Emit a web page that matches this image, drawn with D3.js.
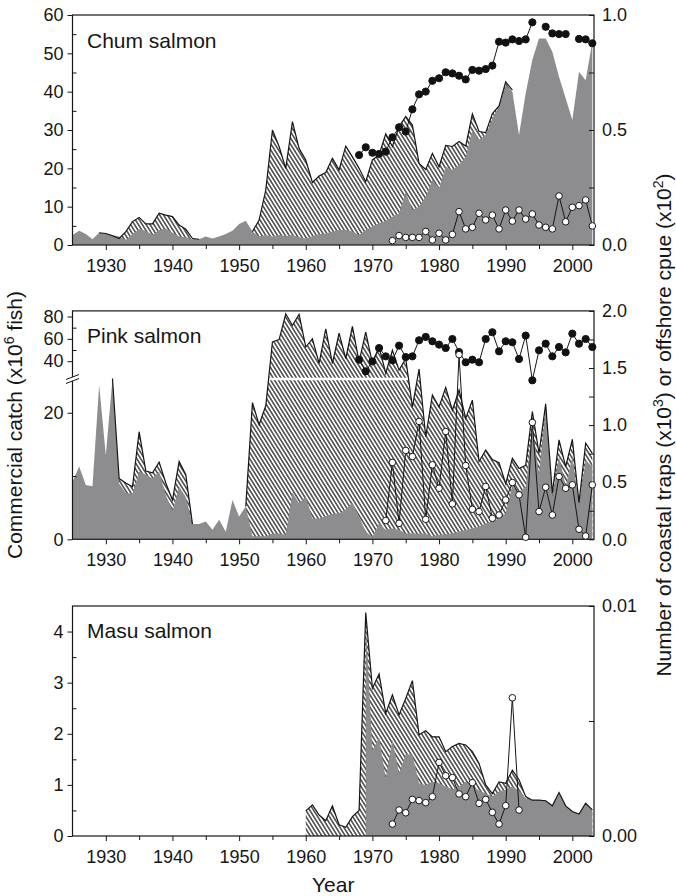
<!DOCTYPE html>
<html><head><meta charset="utf-8">
<script src="https://cdn.jsdelivr.net/npm/d3@7"></script>
<style>
body{margin:0;background:#fff}
svg{display:block}
text{font-family:"Liberation Sans",Arial,Helvetica,sans-serif;fill:#161616}
</style>
</head><body>
<svg id="c" width="676" height="896"></svg>
<script>
// ---------------- DATA ----------------
const years = d3.range(1925, 2004);
const xTicks = [1930, 1940, 1950, 1960, 1970, 1980, 1990, 2000];
const xMinor = [1935, 1945, 1955, 1965, 1975, 1985, 1995];

// Chum salmon (x10^6 fish)
const chumHatchery = [2.6,3.7,2.9,1.5,3.2,3.0,2.6,2.2,1.3,2.9,4.1,3.7,2.6,3.9,4.3,3.2,2.2,2.0,1.5,1.5,2.2,1.7,2.2,2.9,3.7,
  5.5,6.3,3.5,2.2,2.6,2.2,2.6,2.3,2.6,2.0,1.7,2.3,2.9,3.0,3.5,3.9,3.9,3.5,2.6,3.9,4.8,5.7,6.3,7.4,8.3,
  13.9,9.1,10.0,12.6,17.0,14.8,20.4,19.6,20.9,23.0,30.0,27.4,28.7,33.0,36.1,41.7,40.0,28.7,39.6,48.3,53.9,53.9,50.4,43.9,38.3,
  32.6,45.2,43.0,53.0];
const chumTotal = [null,null,null,null,
  3.2,3.0,2.4,1.7,3.5,6.1,7.2,5.5,5.5,8.3,7.8,7.4,5.2,4.1,1.7,1.5,
  null,null,null,null,null,null,null,
  3.5,6.5,14.3,30.0,25.7,20.0,32.2,25.2,22.2,16.3,18.0,18.9,22.6,19.6,25.8,23.0,20.0,16.5,22.2,23.5,29.0,25.7,30.9,33.5,31.3,
  21.3,19.7,23.9,20.4,26.0,25.7,27.0,25.8,34.2,29.6,29.3,34.3,36.3,42.6,40.4,
  null,null,null,null,null,null,null,null,null,null,null,null];
const chumTrapYears = d3.range(1968, 2004);
const chumTraps = [0.391,0.425,0.401,0.396,0.406,0.468,0.512,0.493,0.590,0.655,0.667,0.714,0.725,0.751,0.746,0.736,0.720,
  0.761,0.758,0.765,0.780,0.884,0.880,0.894,0.887,0.894,0.968,null,0.949,0.920,0.917,0.917,null,0.896,0.894,0.877];
const chumCpueYears = d3.range(1973, 2004);
const chumCpue = [0.019,0.041,0.033,0.033,0.033,0.059,0.022,0.051,0.022,0.046,0.145,0.070,0.077,0.138,0.109,0.130,0.070,
  0.152,0.104,0.152,0.113,0.135,0.087,0.077,0.070,0.213,0.101,0.164,0.171,0.196,0.083];

// Pink salmon
const pinkHatchery = [9.1,11.5,8.6,8.4,24.4,13.3,25.4,8.8,7.3,7.2,10.7,10.2,9.6,10.7,7.0,4.5,8.3,6.7,2.4,2.4,2.8,1.5,3.1,1.2,6.2,
  3.6,5.2,0.5,0.5,0.5,0.9,0.9,0.7,7.4,5.7,6.8,3.3,3.3,3.7,4.0,4.1,4.7,5.8,3.6,1.2,0.4,2.5,1.5,1.7,1.5,
  0.9,0.9,0.9,0.9,0.5,0.7,0.8,0.9,1.2,1.5,1.7,2.0,2.5,2.8,3.3,4.1,8.6,7.5,8.3,17.8,10.4,20.9,6.7,13.1,8.3,
  13.1,5.7,12.5,11.5];
const pinkTotal = [null,null,null,null,null,null,
  25.4,9.6,8.9,8.3,17.0,10.8,10.5,12.2,8.9,6.2,12.3,10.2,2.4,
  null,null,null,null,null,null,null,
  5.2,21.6,18.1,21.1,57.2,59.3,82.4,72.0,81.8,52.7,60.1,38.0,69.0,38.0,65.2,42.4,71.1,39.4,66.1,38.0,52.7,29.3,49.8,32.0,42.4,
  20.9,33.0,16.2,22.8,20.9,24.0,20.4,23.6,19.1,22.0,12.3,14.1,12.6,12.1,8.8,12.8,11.2,11.7,20.2,13.6,21.4,7.3,15.7,11.5,
  15.8,5.8,15.2,13.6];
const pinkTrapYears = d3.range(1968, 2004);
const pinkTraps = [1.573,1.471,1.558,1.675,1.602,1.567,1.696,1.596,1.602,1.743,1.772,1.734,1.705,1.675,1.754,1.640,1.550,
  1.573,1.550,1.754,1.813,1.646,1.734,1.725,1.579,1.784,1.392,1.655,1.713,1.602,1.684,1.637,1.801,1.713,1.754,1.684];
const pinkCpueYears = d3.range(1972, 2004);
const pinkCpue = [0.164,0.673,0.140,0.778,0.725,1.032,0.175,0.652,0.447,0.944,0.310,1.617,0.646,0.263,0.243,0.462,0.184,
  0.213,0.345,0.497,0.389,0.018,1.023,0.243,0.456,0.213,0.550,0.447,0.477,0.088,0.029,0.477];

// Masu salmon
const masuYears = d3.range(1960, 2004);
const masuTotal = [0.49,0.61,0.41,0.30,0.59,0.22,0.17,0.38,0.50,4.37,
  2.89,3.17,2.40,2.76,2.37,2.69,3.04,1.98,2.06,1.94,
  1.94,1.65,1.75,1.81,1.78,1.65,1.42,1.00,0.83,1.06,
  1.03,1.29,1.10,0.77,0.70,0.70,0.69,0.59,0.85,0.59,
  0.48,0.43,0.64,0.51];
const masuHatchery = [null,null,null,null,null,null,null,null,null,4.2,
  1.67,1.93,1.13,1.88,1.23,1.60,1.59,1.03,1.00,1.06,
  1.03,0.97,0.91,0.97,1.06,0.97,0.89,0.83,0.77,0.87,
  0.91,0.97,0.89,0.74,0.70,0.70,0.69,0.59,0.85,0.59,
  0.48,0.43,0.64,0.51];
const masuCpueYears = d3.range(1973, 1993);
const masuCpue = [0.00052,0.00113,0.00101,0.00159,0.00154,0.00145,0.00171,0.0032,0.00262,0.00254,
  0.00183,0.00171,0.00232,0.00142,0.00159,0.00103,0.00052,0.00132,0.00601,0.00113];

// ---------------- DRAW ----------------
const svg = d3.select('#c');
const X0 = 72.5, X1 = 594;
const x = d3.scaleLinear().domain([1925, 2003.25]).range([X0, X1]);
const GRAY = '#8d8d8f', INK = '#161616';

const defs = svg.append('defs');
const pat = defs.append('pattern').attr('id', 'hatch').attr('patternUnits', 'userSpaceOnUse')
  .attr('width', 3.3).attr('height', 10).attr('patternTransform', 'rotate(-32)');
pat.append('rect').attr('width', 3.3).attr('height', 10).attr('fill', '#fff');
pat.append('line').attr('x1', 1.65).attr('x2', 1.65).attr('y1', -1).attr('y2', 11)
  .attr('stroke', '#000').attr('stroke-width', 1.1);

const pts = (yrs, vals) => yrs.map((yr, i) => ({yr, v: vals[i]}));

function styleAxis(g, fs) {
  g.select('.domain').remove();
  g.selectAll('line').attr('stroke', INK).attr('stroke-width', 1);
  g.selectAll('text').attr('font-size', fs).attr('fill', INK)
    .attr('font-family', '"Liberation Sans",Arial,sans-serif');
}

function panel(c) {
  const g = svg.append('g');
  const top = c.y.range()[c.y.range().length - 1], bot = c.y.range()[0];
  const cid = 'clip' + c.id;
  defs.append('clipPath').attr('id', cid).append('rect')
    .attr('x', X0).attr('y', top).attr('width', X1 - X0).attr('height', bot - top);
  const pg = g.append('g').attr('clip-path', `url(#${cid})`);

  const tot = pts(c.totYears, c.total);
  const hat = pts(c.hatYears, c.hatch);
  const area = d3.area().defined(d => d.v != null).x(d => x(d.yr)).y0(c.y(0)).y1(d => c.y(d.v));
  pg.append('path').attr('d', area(tot)).attr('fill', 'url(#hatch)');
  pg.append('path').attr('d', area(hat)).attr('fill', GRAY);
  if (c.breakY) {
    pg.append('line').attr('x1', x(1950)).attr('x2', X1).attr('y1', c.breakY).attr('y2', c.breakY)
      .attr('stroke', '#fff').attr('stroke-width', 2.6);
  }
  const line = d3.line().defined(d => d.v != null).x(d => x(d.yr)).y(d => c.y(d.v));
  pg.append('path').attr('d', line(tot)).attr('fill', 'none').attr('stroke', INK)
    .attr('stroke-width', 1.2).attr('stroke-linejoin', 'miter');

  // frame
  g.append('rect').attr('x', X0).attr('y', top).attr('width', X1 - X0).attr('height', bot - top)
    .attr('fill', 'none').attr('stroke', INK).attr('stroke-width', 1.2);

  // axes
  const ab = g.append('g').attr('transform', `translate(0,${bot})`)
    .call(d3.axisBottom(x).tickValues(xTicks).tickSize(5).tickPadding(9).tickFormat(d3.format('d')));
  styleAxis(ab, 18);
  const abm = g.append('g').attr('transform', `translate(0,${bot})`)
    .call(d3.axisBottom(x).tickValues(xMinor).tickSize(4).tickFormat(''));
  styleAxis(abm, 18);
  const al = g.append('g').attr('transform', `translate(${X0},0)`)
    .call(d3.axisLeft(c.y).tickValues(c.leftTicks).tickSize(5).tickPadding(4).tickFormat(d3.format('d')));
  styleAxis(al, 18);
  const alm = g.append('g').attr('transform', `translate(${X0},0)`)
    .call(d3.axisLeft(c.y).tickValues(c.leftMinor).tickSize(-4).tickFormat(''));
  styleAxis(alm, 18);
  const ar = g.append('g').attr('transform', `translate(${X1},0)`)
    .call(d3.axisRight(c.yR).tickValues(c.rightTicks).tickSize(-5).tickPadding(8).tickFormat(c.rFmt));
  styleAxis(ar, 18);
  const arm = g.append('g').attr('transform', `translate(${X1},0)`)
    .call(d3.axisRight(c.yR).tickValues(c.rightMinor).tickSize(-5).tickFormat(''));
  styleAxis(arm, 18);

  // dot series
  const lineR = d3.line().defined(d => d.v != null).x(d => x(d.yr)).y(d => c.yR(d.v));
  (c.dots || []).forEach(s => {
    const d = pts(s.years, s.vals);
    g.append('path').attr('d', lineR(d)).attr('fill', 'none').attr('stroke', INK).attr('stroke-width', 1);
    g.selectAll(null).data(d.filter(p => p.v != null)).enter().append('circle')
      .attr('cx', p => x(p.yr)).attr('cy', p => c.yR(p.v)).attr('r', s.filled ? 3.6 : 3.3)
      .attr('fill', s.filled ? '#111' : '#fff').attr('stroke', INK).attr('stroke-width', 1);
  });

  g.append('text').attr('x', 87).attr('y', c.titleY).attr('font-size', 21).text(c.title);
  return g;
}

// Chum
panel({id: 1, title: 'Chum salmon', titleY: 48,
  y: d3.scaleLinear().domain([0, 60]).range([245, 15]),
  yR: d3.scaleLinear().domain([0, 1]).range([245, 15]),
  totYears: years, total: chumTotal, hatYears: years, hatch: chumHatchery,
  leftTicks: [0, 10, 20, 30, 40, 50, 60], leftMinor: [5, 15, 25, 35, 45, 55],
  rightTicks: [0, 0.5, 1], rightMinor: [0.25, 0.75], rFmt: d3.format('.1f'),
  dots: [{years: chumTrapYears, vals: chumTraps, filled: true},
         {years: chumCpueYears, vals: chumCpue, filled: false}]
});

// Pink (broken axis)
const pinkY = d3.scaleLinear().domain([0, 25.6, 85]).range([539.3, 377.3, 310.9]);
const pg = panel({id: 2, title: 'Pink salmon', titleY: 343,
  y: pinkY,
  yR: d3.scaleLinear().domain([0, 2]).range([539.3, 310.9]),
  totYears: years, total: pinkTotal, hatYears: years, hatch: pinkHatchery,
  leftTicks: [0, 20, 40, 60, 80], leftMinor: [10, 50, 70],
  rightTicks: [0, 0.5, 1, 1.5, 2], rightMinor: [0.25, 0.75, 1.25, 1.75], rFmt: d3.format('.1f'),
  breakY: 379,
  dots: [{years: pinkTrapYears, vals: pinkTraps, filled: true},
         {years: pinkCpueYears, vals: pinkCpue, filled: false}]
});
// axis break marks
pg.append('polygon').attr('points', '66,379.5 79,374.5 79,378.5 66,383.5').attr('fill', '#fff');
pg.append('line').attr('x1', 66).attr('y1', 379.5).attr('x2', 79).attr('y2', 374.5).attr('stroke', INK).attr('stroke-width', 1);
pg.append('line').attr('x1', 66).attr('y1', 383.5).attr('x2', 79).attr('y2', 378.5).attr('stroke', INK).attr('stroke-width', 1);

// Masu
panel({id: 3, title: 'Masu salmon', titleY: 638,
  y: d3.scaleLinear().domain([0, 4.5]).range([836, 606]),
  yR: d3.scaleLinear().domain([0, 0.01]).range([836, 606]),
  totYears: masuYears, total: masuTotal, hatYears: masuYears, hatch: masuHatchery,
  leftTicks: [0, 1, 2, 3, 4], leftMinor: [0.5, 1.5, 2.5, 3.5],
  rightTicks: [0, 0.01], rightMinor: [0.005], rFmt: d3.format('.2f'),
  dots: [{years: masuCpueYears, vals: masuCpue, filled: false}]
});

// axis titles
svg.append('text').attr('x', (X0 + X1) / 2).attr('y', 892).attr('text-anchor', 'middle')
  .attr('font-size', 21).text('Year');

const lt = svg.append('text').attr('transform', 'translate(22,425) rotate(-90)')
  .attr('text-anchor', 'middle').attr('font-size', 21);
lt.append('tspan').text('Commercial catch (x10');
lt.append('tspan').attr('dy', -8).attr('font-size', 14).text('6');
lt.append('tspan').attr('dy', 8).text(' fish)');

const rt = svg.append('text').attr('transform', 'translate(671,425) rotate(-90)')
  .attr('text-anchor', 'middle').attr('font-size', 21);
rt.append('tspan').text('Number of coastal traps (x10');
rt.append('tspan').attr('dy', -8).attr('font-size', 14).text('3');
rt.append('tspan').attr('dy', 8).text(') or offshore cpue (x10');
rt.append('tspan').attr('dy', -8).attr('font-size', 14).text('2');
rt.append('tspan').attr('dy', 8).text(')');
</script>
</body></html>
